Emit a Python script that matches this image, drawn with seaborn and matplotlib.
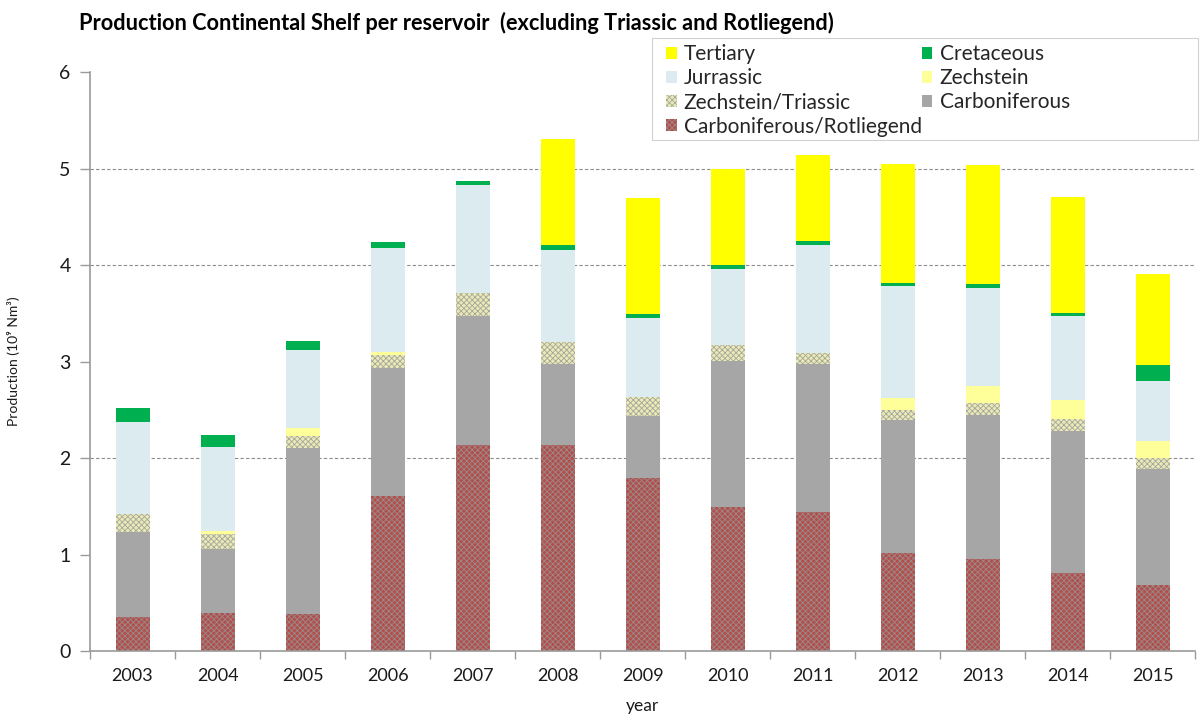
import numpy as np
import pandas as pd
import matplotlib
matplotlib.use("Agg")
import matplotlib.pyplot as plt
from matplotlib.patches import Patch, Rectangle
import seaborn as sns

# ---- data (10^9 Nm3 per reservoir, continental shelf) ----
years = ["2003", "2004", "2005", "2006", "2007", "2008", "2009",
         "2010", "2011", "2012", "2013", "2014", "2015"]
carb_rotliegend = [0.35, 0.39, 0.38, 1.61, 2.14, 2.13, 1.79, 1.49, 1.44, 1.02, 0.95, 0.81, 0.68]
carboniferous   = [0.88, 0.67, 1.72, 1.32, 1.33, 0.84, 0.65, 1.52, 1.53, 1.37, 1.50, 1.47, 1.21]
zech_triassic   = [0.19, 0.15, 0.13, 0.14, 0.235, 0.23, 0.19, 0.16, 0.12, 0.11, 0.12, 0.12, 0.11]
zechstein       = [0.00, 0.035, 0.08, 0.03, 0.01, 0.00, 0.00, 0.00, 0.00, 0.12, 0.18, 0.20, 0.18]
jurassic        = [0.95, 0.87, 0.81, 1.08, 1.11, 0.96, 0.82, 0.79, 1.12, 1.16, 1.01, 0.87, 0.62]
cretaceous      = [0.15, 0.12, 0.09, 0.06, 0.05, 0.05, 0.04, 0.04, 0.04, 0.03, 0.04, 0.03, 0.16]
tertiary        = [0.00, 0.00, 0.00, 0.00, 0.00, 1.10, 1.20, 0.99, 0.89, 1.24, 1.24, 1.20, 0.95]

series_names = ["Carboniferous/Rotliegend", "Carboniferous", "Zechstein/Triassic",
                "Zechstein", "Jurrassic", "Cretaceous", "Tertiary"]
series_values = [carb_rotliegend, carboniferous, zech_triassic,
                 zechstein, jurassic, cretaceous, tertiary]

# fill style per reservoir: (face colour, hatch, hatch colour)
styles = {
    "Carboniferous/Rotliegend": ("#b24f4c", "xxxxxx", "#9a8a8a"),
    "Carboniferous":            ("#a6a6a6", None, "#a6a6a6"),
    "Zechstein/Triassic":       ("#eaeab6", "xxxxxx", "#a6a69e"),
    "Zechstein":                ("#ffff99", None, "#ffff99"),
    "Jurrassic":                ("#dbebef", None, "#dbebef"),
    "Cretaceous":               ("#00b050", None, "#00b050"),
    "Tertiary":                 ("#ffff00", None, "#ffff00"),
}

grid_levels = [2, 4, 5]

sns.set_theme(style="white")
plt.rcParams["font.family"] = ["Lato", "DejaVu Sans"]
plt.rcParams["hatch.linewidth"] = 0.6

fig = plt.figure(figsize=(12, 7.2), dpi=100)
ax = fig.add_axes([0.075, 0.0958, 0.921, 0.8042])

for lvl in grid_levels:
    ax.axhline(lvl, color="#8c8c8c", linestyle=(0, (3, 2)), linewidth=0.8, zorder=0)

bottom = np.zeros(len(years))
for name, vals in zip(series_names, series_values):
    face, hatch, hcol = styles[name]
    df = pd.DataFrame({"year": years, "value": vals})
    sns.barplot(data=df, x="year", y="value", order=years, bottom=bottom,
                color=face, saturation=1, width=0.4, errorbar=None,
                hatch=hatch, edgecolor=hcol, linewidth=0, ax=ax, zorder=2)
    bottom = bottom + np.asarray(vals)

ax.set_xlim(-0.5, len(years) - 0.5)
ax.set_ylim(0, 6)
ax.set_yticks(range(0, 7))
ax.set_yticklabels([str(v) for v in range(0, 7)], fontsize=14, color="#1a1a1a")
ax.tick_params(axis="x", which="major", length=0, labelsize=13, pad=12, colors="#1a1a1a")
ax.set_xticks(np.arange(-0.5, len(years), 1.0), minor=True)
ax.tick_params(axis="x", which="minor", length=6, width=1, color="#9a9a9a", bottom=True)
ax.tick_params(axis="y", which="major", length=7, width=1, color="#9a9a9a", left=True, pad=7)

for side in ["top", "right"]:
    ax.spines[side].set_visible(False)
for side in ["left", "bottom"]:
    ax.spines[side].set_color("#9a9a9a")
    ax.spines[side].set_linewidth(1.2)

ax.set_xlabel("year", fontsize=12.5, color="#1a1a1a", labelpad=10)
ax.set_ylabel("Production (10\u2079 Nm\u00b3)", fontsize=10, color="#1a1a1a", labelpad=22)
ax.yaxis.set_label_coords(-0.063, 0.5)

fig.text(0.066, 0.968, "Production Continental Shelf per reservoir  (excluding Triassic and Rotliegend)",
         fontsize=15.7, fontweight="bold", color="#000000", ha="left", va="center")

# legend: two columns, filled column by column, inside a fixed box
legend_order = ["Tertiary", "Jurrassic", "Zechstein/Triassic", "Carboniferous/Rotliegend",
                "Cretaceous", "Zechstein", "Carboniferous"]
handles = []
for name in legend_order:
    face, hatch, hcol = styles[name]
    handles.append(Patch(facecolor=face, hatch=hatch, edgecolor=hcol, linewidth=0, label=name))
leg = fig.legend(handles=handles, ncol=2, loc="upper left",
                 bbox_to_anchor=(664 / 1200, 1 - 42 / 720), frameon=False, fontsize=15,
                 handlelength=0.5, handleheight=0.5, handletextpad=0.35,
                 columnspacing=0.0, labelspacing=0.2, borderpad=0.1,
                 borderaxespad=0)
fig.patches.append(Rectangle((652 / 1200, 1 - 140 / 720), 546 / 1200, 102 / 720,
                             transform=fig.transFigure, fill=False,
                             edgecolor="#d0d0d0", linewidth=0.8))

fig.savefig("out.png", dpi=100)
